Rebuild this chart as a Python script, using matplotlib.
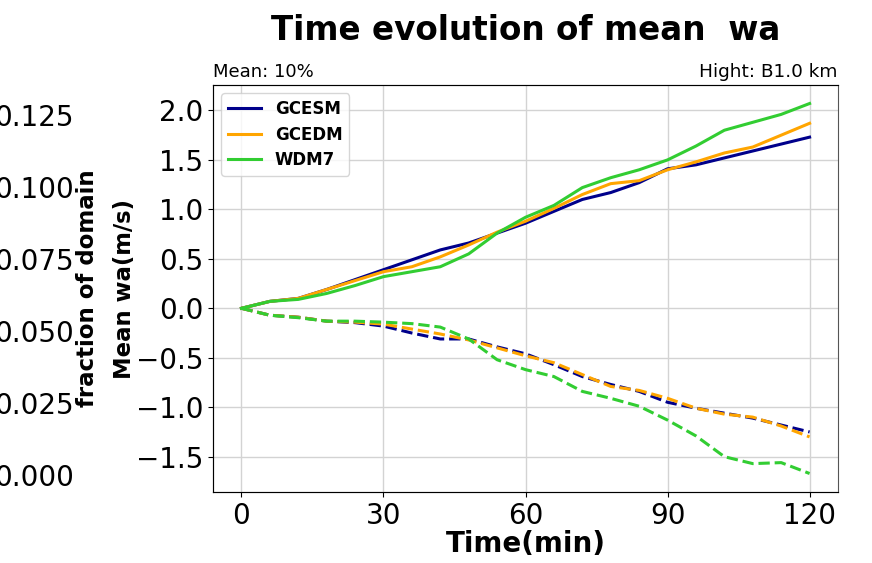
import matplotlib.pyplot as plt
import numpy as np

# time axis (min), output every 6 minutes
time_min = np.arange(0, 121, 6)

# mean updraft (solid) per scheme, m/s
gcesm_up = [0.00, 0.07, 0.10, 0.19, 0.29, 0.39, 0.49, 0.59, 0.66, 0.76, 0.86,
            0.98, 1.10, 1.17, 1.27, 1.41, 1.45, 1.52, 1.59, 1.66, 1.73]
gcedm_up = [0.00, 0.07, 0.10, 0.19, 0.28, 0.37, 0.42, 0.52, 0.64, 0.77, 0.88,
            1.01, 1.15, 1.26, 1.29, 1.40, 1.48, 1.57, 1.63, 1.75, 1.87]
wdm7_up = [0.00, 0.07, 0.09, 0.15, 0.23, 0.32, 0.37, 0.42, 0.55, 0.76, 0.92,
           1.04, 1.22, 1.32, 1.40, 1.50, 1.64, 1.80, 1.88, 1.96, 2.07]

# mean downdraft (dashed) per scheme, m/s
gcesm_dn = [0.00, -0.07, -0.09, -0.13, -0.145, -0.18, -0.25, -0.31, -0.31, -0.39, -0.46,
            -0.57, -0.69, -0.77, -0.84, -0.95, -1.01, -1.06, -1.11, -1.18, -1.25]
gcedm_dn = [0.00, -0.07, -0.09, -0.13, -0.14, -0.16, -0.21, -0.26, -0.32, -0.40, -0.48,
            -0.55, -0.67, -0.79, -0.83, -0.91, -1.01, -1.07, -1.10, -1.19, -1.30]
wdm7_dn = [0.00, -0.07, -0.095, -0.13, -0.13, -0.14, -0.155, -0.19, -0.31, -0.52, -0.62,
           -0.69, -0.84, -0.91, -0.99, -1.13, -1.29, -1.50, -1.57, -1.56, -1.67]

schemes = ["GCESM", "GCEDM", "WDM7"]
colors = ["darkblue", "orange", "limegreen"]
up_series = [gcesm_up, gcedm_up, wdm7_up]
dn_series = [gcesm_dn, gcedm_dn, wdm7_dn]

fraction_ticks = [0.000, 0.025, 0.050, 0.075, 0.100, 0.125]

fig = plt.figure(figsize=(8.72, 5.63), dpi=100)
ax = fig.add_axes([0.2443, 0.1261, 0.7167, 0.7229])

for name, col, up, dn in zip(schemes, colors, up_series, dn_series):
    ax.plot(time_min, up, color=col, lw=2.2, label=name)
    ax.plot(time_min, dn, color=col, lw=2.2, ls="--")

ax.set_xticks([0, 30, 60, 90, 120])
ax.set_yticks([-1.5, -1.0, -0.5, 0.0, 0.5, 1.0, 1.5, 2.0])
ax.tick_params(labelsize=20)
ax.grid(True, color="#d3d3d3", lw=1.0)
ax.set_xlabel("Time(min)", fontsize=20, fontweight="bold", labelpad=0)
ax.set_ylabel("Mean wa(m/s)", fontsize=16.4, fontweight="bold", labelpad=0)
ax.set_title("Mean: 10%", loc="left", fontsize=13)
ax.set_title("Hight: B1.0 km", loc="right", fontsize=13.3)
ax.legend(loc="upper left", prop={"weight": "bold", "size": 12}, labelspacing=0.45)
for s in ax.spines.values():
    s.set_color("#555555")

# main heading sits above the left/right sub-titles
fig.text(0.6026, 0.946, "Time evolution of mean  wa", fontsize=23.5,
         fontweight="bold", ha="center", va="center")

# domain-fraction axis pushed out to the far left
ax2 = ax.twinx()
ax2.spines["right"].set_position(("axes", -0.350))
ax2.spines["right"].set_visible(False)
ax2.set_ylim(-0.0059, 0.1354)
ax2.set_yticks(fraction_ticks)
ax2.set_yticklabels([f"{v:.3f}" for v in fraction_ticks])
ax2.tick_params(axis="y", labelsize=20, length=0, pad=0)
ax2.set_ylabel("fraction of domain", fontsize=16.5, fontweight="bold", labelpad=1)

fig.savefig("out.png", dpi=100)
